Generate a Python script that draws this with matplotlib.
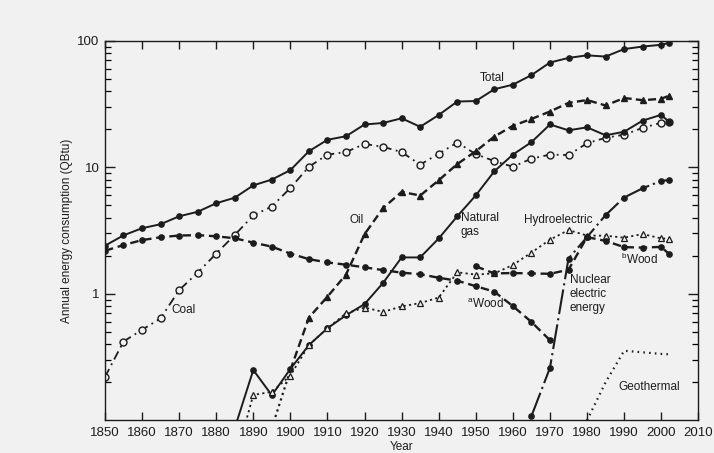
"""US energy consumption by source, 1850-2002 (log scale)"""

import matplotlib
matplotlib.use('Agg')
import matplotlib.pyplot as plt
from matplotlib.ticker import LogLocator, NullFormatter, FixedLocator, FixedFormatter

plt.rcParams['font.family'] = ['Liberation Sans', 'DejaVu Sans']

# --- data (QBtu) ---
years_all = [1850, 1855, 1860, 1865, 1870, 1875, 1880, 1885, 1890, 1895,
             1900, 1905, 1910, 1915, 1920, 1925, 1930, 1935, 1940, 1945,
             1950, 1955, 1960, 1965, 1970, 1975, 1980, 1985, 1990, 1995,
             2000, 2002]
total = [2.4, 2.9, 3.3, 3.55, 4.1, 4.45, 5.2, 5.75, 7.2, 8.0,
         9.5, 13.4, 16.5, 17.6, 21.8, 22.4, 24.4, 20.9, 25.9, 33.1,
         33.4, 41.4, 45, 53.5, 67.3, 73.2, 76.7, 75, 86, 90,
         93, 96]
coal = [0.22, 0.42, 0.52, 0.64, 1.07, 1.47, 2.08, 2.92, 4.17, 4.9,
        6.87, 10.1, 12.6, 13.2, 15.3, 14.5, 13.2, 10.5, 12.8, 15.7,
        12.7, 11.2, 10.1, 11.7, 12.6, 12.5, 15.5, 17.1, 18.1, 20.5,
        22.5, 22.6]

years_oil = [1895, 1900, 1905, 1910, 1915, 1920, 1925, 1930, 1935, 1940,
             1945, 1950, 1955, 1960, 1965, 1970, 1975, 1980, 1985, 1990,
             1995, 2000, 2002]
oil = [0.087, 0.25, 0.65, 0.95, 1.42, 2.96, 4.76, 6.4, 5.98, 7.9,
       10.6, 13.4, 17.5, 21.3, 24.1, 27.6, 32.3, 34, 30.8, 35.3,
       33.9, 34.8, 36.7]

years_gas = [1885, 1890, 1895, 1900, 1905, 1910, 1915, 1920, 1925, 1930,
             1935, 1940, 1945, 1950, 1955, 1960, 1965, 1970, 1975, 1980,
             1985, 1990, 1995, 2000, 2002]
gas = [0.087, 0.25, 0.158, 0.255, 0.394, 0.535, 0.677, 0.83, 1.22, 1.94,
       1.94, 2.74, 4.1, 6.0, 9.3, 12.6, 15.8, 21.8, 19.6, 20.7,
       17.9, 19.1, 23.4, 26, 23]
hydro = [0.047, 0.159, 0.168, 0.226, 0.394, 0.535, 0.70, 0.78, 0.72, 0.796,
         0.845, 0.935, 1.48, 1.42, 1.45, 1.69, 2.12, 2.68, 3.19, 2.89,
         2.88, 2.78, 2.97, 2.74, 2.73]

years_wood_a = [1850, 1855, 1860, 1865, 1870, 1875, 1880, 1885, 1890, 1895,
                1900, 1905, 1910, 1915, 1920, 1925, 1930, 1935, 1940, 1945,
                1950, 1955, 1960, 1965, 1970]
wood_a = [2.19, 2.43, 2.66, 2.8, 2.89, 2.91, 2.85, 2.75, 2.54, 2.36,
          2.08, 1.88, 1.77, 1.70, 1.62, 1.54, 1.47, 1.43, 1.34, 1.27,
          1.15, 1.04, 0.80, 0.60, 0.43]

years_wood_b = [1950, 1955, 1960, 1965, 1970, 1975, 1980, 1985, 1990, 1995,
                2000, 2002]
wood_b = [1.65, 1.45, 1.46, 1.45, 1.44, 1.55, 2.81, 2.62, 2.34, 2.32,
          2.35, 2.08]

years_nuclear = [1965, 1970, 1975, 1980, 1985, 1990, 1995, 2000, 2002]
nuclear = [0.108, 0.26, 1.9, 2.81, 4.19, 5.77, 6.83, 7.81, 7.93]

years_geo = [1980, 1985, 1990, 1995, 2000, 2002]
geothermal = [0.1, 0.2, 0.355, 0.345, 0.335, 0.333]

decades = [1850, 1860, 1870, 1880, 1890, 1900, 1910, 1920, 1930, 1940,
           1950, 1960, 1970, 1980, 1990, 2000, 2010]

INK = '#1c1c1c'
BG = '#f1f1f1'

fig = plt.figure(figsize=(7.14, 4.53), dpi=100, facecolor=BG)
ax = fig.add_axes([0.147, 0.072, 0.831, 0.838], facecolor=BG)

# Total
ax.plot(years_all, total, '-', color=INK, lw=1.4, marker='o', ms=3.8)
# Coal (dash-dot, open circles)
ax.plot(years_all, coal, color=INK, lw=1.3, linestyle=(0, (5, 2.5, 1, 2.5)),
        marker='o', ms=5, mfc=BG, mec=INK, mew=1.0)
# Oil: dotted start, then dashed with filled triangles
ax.plot(years_oil[:2], oil[:2], color=INK, lw=1.6, linestyle=(0, (1, 1.6)))
ax.plot(years_oil[1:], oil[1:], color=INK, lw=1.7, linestyle=(0, (3.4, 1.8)),
        marker='^', ms=4.5, markevery=list(range(1, len(oil) - 1)))
# Natural gas
ax.plot(years_gas, gas, '-', color=INK, lw=1.4, marker='o', ms=3.8)
# Hydroelectric (dotted, open triangles)
ax.plot(years_gas, hydro, color=INK, lw=1.3, linestyle=(0, (1.2, 1.8)),
        marker='^', ms=5, mfc=BG, mec=INK, mew=0.9,
        markevery=list(range(1, len(hydro))))
# Wood, two estimates
ax.plot(years_wood_a, wood_a, color=INK, lw=1.7, linestyle=(0, (3.6, 2)),
        marker='o', ms=3.8)
ax.plot(years_wood_b, wood_b, color=INK, lw=1.7, linestyle=(0, (3.6, 2)),
        marker='o', ms=3.8)
# Nuclear electric energy
ax.plot(years_nuclear, nuclear, color=INK, lw=1.5,
        linestyle=(0, (12, 2, 1, 2)), marker='o', ms=3.8)
# Geothermal
ax.plot(years_geo, geothermal, color=INK, lw=1.6, linestyle=(0, (0.7, 1.9)))

# labels on the lines
txt = dict(fontsize=8.5, color=INK, va='center', ha='left')
ax.text(1951, 50.5, 'Total', **txt)
ax.text(1916, 3.86, 'Oil', **txt)
ax.text(1946, 3.5, 'Natural\ngas', linespacing=1.2, **txt)
ax.text(1963, 3.83, 'Hydroelectric', **txt)
ax.text(1868, 0.74, 'Coal', **txt)
ax.text(1947.7, 0.83, r'$^{\mathregular{a}}$Wood', **txt)
ax.text(1989.2, 1.87, r'$^{\mathregular{b}}$Wood', **txt)
ax.text(1975.3, 1.0, 'Nuclear\nelectric\nenergy', linespacing=1.2, **txt)
ax.text(1988.4, 0.185, 'Geothermal', **txt)

# axes
ax.set_yscale('log')
ax.set_xlim(1850, 2010)
ax.set_ylim(0.1, 100)
ax.xaxis.set_major_locator(FixedLocator(decades))
ax.set_xticklabels([str(d) for d in decades])
ax.yaxis.set_major_locator(FixedLocator([1, 10, 100]))
ax.yaxis.set_major_formatter(FixedFormatter(['1', '10', '100']))
ax.yaxis.set_minor_locator(LogLocator(base=10, subs=range(2, 10)))
ax.yaxis.set_minor_formatter(NullFormatter())
ax.tick_params(axis='x', which='major', direction='in', length=6, width=1,
               top=True, bottom=True, labelsize=9.5, pad=5, colors=INK)
ax.tick_params(axis='y', which='major', direction='in', length=7, width=1,
               left=True, right=True, labelsize=9.5, pad=4, colors=INK)
ax.tick_params(axis='y', which='minor', direction='in', length=4, width=0.9,
               left=True, right=True)
for s in ax.spines.values():
    s.set_linewidth(1.0)
    s.set_color(INK)

ax.set_xlabel('Year', fontsize=8.5, color=INK, labelpad=1)
ax.set_ylabel('Annual energy consumption (QBtu)', fontsize=8.5, color=INK,
              labelpad=3)

fig.savefig('out.png', dpi=100, facecolor=BG)
